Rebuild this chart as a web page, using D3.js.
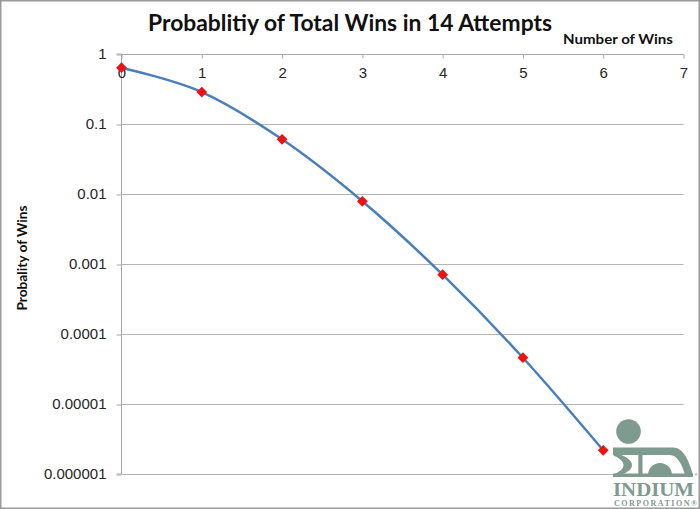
<!DOCTYPE html>
<html><head><meta charset="utf-8">
<script src="https://cdn.jsdelivr.net/npm/d3@7"></script>
<style>html,body{margin:0;padding:0;background:#fff}svg{display:block}</style>
</head><body>
<svg id="chart" width="700" height="509"></svg>
<script>
// ---- data ----
const wins = [0, 1, 2, 3, 4, 5, 6];
const probability = [0.637, 0.286, 0.0604, 0.00787, 0.000703, 0.0000458, 0.00000218];
const xTicks = [0, 1, 2, 3, 4, 5, 6, 7];
const yTicks = [1, 0.1, 0.01, 0.001, 0.0001, 0.00001, 0.000001];
const yTickLabels = ["1", "0.1", "0.01", "0.001", "0.0001", "0.00001", "0.000001"];
const titleText = "Probablitiy of Total Wins in 14 Attempts";
const xTitle = "Number of Wins";
const yTitle = "Probality  of Wins";

const svg = d3.select("#chart");
const W = 700, H = 509;
const plot = {left: 121.5, right: 683.5, top: 54, bottom: 474};

const x = d3.scaleLinear().domain([0, 7]).range([plot.left, plot.right]);
const y = d3.scaleLog().domain([1e-6, 1]).range([plot.bottom, plot.top]);

svg.append("rect").attr("x", 0.75).attr("y", 0.75).attr("width", W - 1.5).attr("height", H - 1.5)
  .attr("fill", "#fff").attr("stroke", "#9a9a9a").attr("stroke-width", 1.5);

// gridlines
svg.append("g").selectAll("line").data(yTicks).join("line")
  .attr("x1", plot.left).attr("x2", plot.right)
  .attr("y1", d => Math.round(y(d)) + 0.5).attr("y2", d => Math.round(y(d)) + 0.5)
  .attr("stroke", "#b4b4b4").attr("stroke-width", 1);

// y axis
const yAxis = d3.axisLeft(y).tickValues(yTicks).tickSize(5).tickPadding(10)
  .tickFormat((d, i) => yTickLabels[i]);
const gy = svg.append("g").attr("transform", `translate(${plot.left},0)`).call(yAxis);
gy.select(".domain").attr("stroke", "#a8a8a8").attr("d", `M-5,${plot.top}H0V${plot.bottom}H-5`);
gy.selectAll(".tick line").attr("stroke", "#a8a8a8").attr("transform", "translate(0,0.5)");
gy.selectAll(".tick text").attr("font-family", "Liberation Sans, Arial, sans-serif")
  .attr("font-size", 15).attr("fill", "#262626");

// x axis (top)
const xAxis = d3.axisBottom(x).tickValues(xTicks).tickSize(4).tickPadding(9).tickFormat(d3.format("d"));
const gx = svg.append("g").attr("transform", `translate(0,${plot.top + 0.5})`).call(xAxis);
gx.select(".domain").attr("stroke", "#a8a8a8").attr("d", `M${plot.left},0H${plot.right}`);
gx.selectAll(".tick line").attr("stroke", "#a8a8a8");
gx.selectAll(".tick text").attr("font-family", "Liberation Sans, Arial, sans-serif")
  .attr("font-size", 15).attr("fill", "#262626");

// line
const pts = wins.map((w, i) => [x(w), y(probability[i])]);
svg.append("path").datum(pts)
  .attr("d", d3.line().curve(d3.curveCardinal.tension(0)))
  .attr("fill", "none").attr("stroke", "#4a7ebb").attr("stroke-width", 2.5);

// markers
svg.append("g").selectAll("path").data(pts).join("path")
  .attr("d", d3.symbol().type(d3.symbolSquare).size(58))
  .attr("transform", d => `translate(${d[0]},${d[1]}) rotate(45)`)
  .attr("fill", "#ee1111");

// titles
svg.append("text").attr("x", 350).attr("y", 31).attr("text-anchor", "middle")
  .attr("font-family", "Lato, Open Sans, sans-serif").attr("font-weight", "bold").attr("font-size", 23.5)
  .attr("textLength", 404).attr("lengthAdjust", "spacingAndGlyphs").attr("fill", "#111").text(titleText);
svg.append("text").attr("x", 618).attr("y", 44).attr("text-anchor", "middle")
  .attr("font-family", "Lato, Open Sans, sans-serif").attr("font-weight", "bold").attr("font-size", 14)
  .attr("textLength", 110).attr("lengthAdjust", "spacingAndGlyphs").attr("fill", "#111").text(xTitle);
svg.append("text").attr("transform", "translate(27,258) rotate(-90)").attr("text-anchor", "middle")
  .attr("font-family", "Lato, Open Sans, sans-serif").attr("font-weight", "bold").attr("font-size", 13.5)
  .attr("textLength", 105).attr("lengthAdjust", "spacingAndGlyphs").attr("fill", "#111").text(yTitle);

// logo
const logoColor = "#7f9a8e";
const logo = svg.append("g").attr("fill", logoColor);
logo.append("circle").attr("cx", 628.5).attr("cy", 431.5).attr("r", 12.3);
// top bar with arch on the right
logo.append("path").attr("d",
  "M613,447.5 H673 C683,447.5 689,460 693,475 H685 C682,464 677,455 670,455 H613 Z");
// left bracket ")"
logo.append("path").attr("d",
  "M613,455 H621.5 C628,458 632,461 632,465 C632,469 628,472 621.5,475 H613 C619,472 623.5,469 623.5,465 C623.5,461 619,458 613,455 Z");
// stem
logo.append("rect").attr("x", 638.3).attr("y", 455).attr("width", 4.2).attr("height", 20);
// half circle
logo.append("path").attr("d", "M648,475 A12,12 0 0 1 672,475 Z");
// bottom bar
logo.append("rect").attr("x", 613).attr("y", 473.5).attr("width", 80).attr("height", 3.5);
logo.append("text").attr("x", 694).attr("y", 476).attr("font-size", 4).attr("font-family", "DejaVu Sans").text("®");
logo.append("text").attr("x", 613).attr("y", 495.5)
  .attr("font-family", "Liberation Serif, DejaVu Serif, serif").attr("font-weight", "bold").attr("font-size", 18)
  .attr("textLength", 81).attr("lengthAdjust", "spacingAndGlyphs").text("INDIUM");
logo.append("text").attr("x", 614).attr("y", 505.5)
  .attr("font-family", "Liberation Serif, DejaVu Serif, serif").attr("font-weight", "bold").attr("font-size", 8)
  .attr("textLength", 83).attr("lengthAdjust", "spacing").text("CORPORATION®");
</script>
</body></html>
